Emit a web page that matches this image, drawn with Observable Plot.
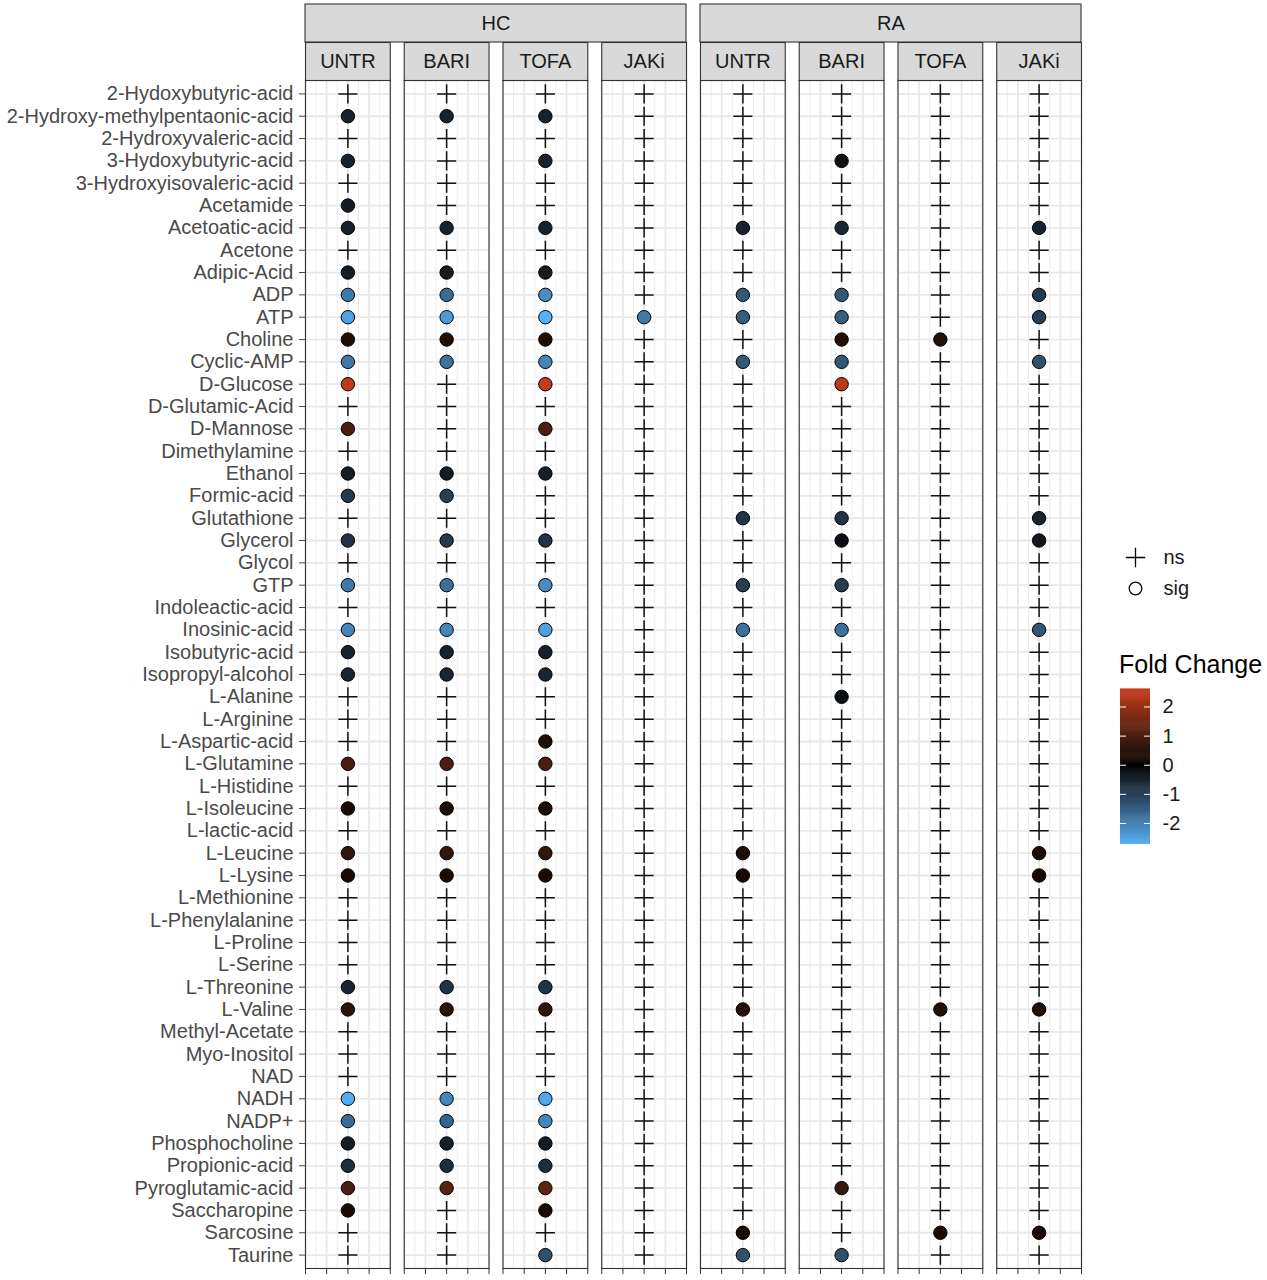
<!DOCTYPE html>
<html>
<head>
<meta charset="utf-8">
<script src="https://cdn.jsdelivr.net/npm/d3@7"></script>
<script src="https://cdn.jsdelivr.net/npm/@observablehq/plot@0.6"></script>
<style>
  body { margin: 0; background: #fff; font-family: "Liberation Sans", Arial, sans-serif; }
  #wrap { position: relative; width: 1267px; height: 1280px; }
  #main { position: absolute; left: 0; top: 0; }
  #shapeLeg { position: absolute; left: 1115px; top: 540px; }
  #legTitle { position: absolute; left: 1119px; top: 650px; font-size: 25px; color: #000; white-space: nowrap; }
  #colorLeg { position: absolute; left: 1110px; top: 680px; }
</style>
</head>
<body>
<div id="wrap">
  <div id="main"></div>
  <div id="shapeLeg"></div>
  <div id="legTitle">Fold Change</div>
  <div id="colorLeg"></div>
</div>
<script>
// ---------------- data ----------------
const metabolites = [
  "2-Hydoxybutyric-acid","2-Hydroxy-methylpentaonic-acid","2-Hydroxyvaleric-acid","3-Hydoxybutyric-acid",
  "3-Hydroxyisovaleric-acid","Acetamide","Acetoatic-acid","Acetone","Adipic-Acid","ADP","ATP","Choline",
  "Cyclic-AMP","D-Glucose","D-Glutamic-Acid","D-Mannose","Dimethylamine","Ethanol","Formic-acid",
  "Glutathione","Glycerol","Glycol","GTP","Indoleactic-acid","Inosinic-acid","Isobutyric-acid",
  "Isopropyl-alcohol","L-Alanine","L-Arginine","L-Aspartic-acid","L-Glutamine","L-Histidine",
  "L-Isoleucine","L-lactic-acid","L-Leucine","L-Lysine","L-Methionine","L-Phenylalanine","L-Proline",
  "L-Serine","L-Threonine","L-Valine","Methyl-Acetate","Myo-Inositol","NAD","NADH","NADP+",
  "Phosphocholine","Propionic-acid","Pyroglutamic-acid","Saccharopine","Sarcosine","Taurine"
];
const groups = ["HC", "RA"];
const treatments = ["UNTR", "BARI", "TOFA", "JAKi"];

// fold change where significant, null = not significant (ns); order follows `metabolites`
const N = null;
const hcUNTR = [N,-0.5,N,-0.5,N,-0.35,-0.45,N,-0.4,-1.9,-2.5,0.3,-1.9,2.5,N,0.95,N,-0.4,-0.9,N,-0.8,N,-1.9,N,-2.1,-0.5,-0.55,N,N,N,0.95,N,0.22,N,0.6,0.22,N,N,N,N,-0.55,0.5,N,N,N,-2.65,-1.7,-0.4,-0.7,1.0,0.25,N,N];
const hcBARI = [N,-0.5,N,N,N,N,-0.5,N,-0.4,-1.7,-2.4,0.3,-1.8,N,N,N,N,-0.4,-1.0,N,-0.9,N,-1.8,N,-2.1,-0.5,-0.55,N,N,N,1.0,N,0.25,N,0.6,0.25,N,N,N,N,-0.8,0.5,N,N,N,-2.1,-1.6,-0.45,-0.7,1.2,N,N,N];
const hcTOFA = [N,-0.5,N,-0.5,N,N,-0.5,N,-0.4,-2.2,-2.72,0.3,-2.1,2.6,N,1.0,N,-0.45,N,N,-0.8,N,-2.2,N,-2.5,-0.45,-0.55,N,N,0.3,1.0,N,0.25,N,0.6,0.25,N,N,N,N,-0.8,0.6,N,N,N,-2.6,-2.1,-0.4,-0.7,1.3,0.25,N,-1.3];
const hcJAKi = [N,N,N,N,N,N,N,N,N,N,-1.9,N,N,N,N,N,N,N,N,N,N,N,N,N,N,N,N,N,N,N,N,N,N,N,N,N,N,N,N,N,N,N,N,N,N,N,N,N,N,N,N,N,N];
const raUNTR = [N,N,N,N,N,N,-0.5,N,N,-1.4,-1.5,N,-1.4,N,N,N,N,N,N,-0.8,N,N,-1.0,N,-1.8,N,N,N,N,N,N,N,N,N,0.3,0.2,N,N,N,N,N,0.35,N,N,N,N,N,N,N,N,N,0.25,-1.3];
const raBARI = [N,N,N,-0.2,N,N,-0.6,N,N,-1.4,-1.5,0.35,-1.4,2.5,N,N,N,N,N,-0.8,-0.15,N,-1.0,N,-1.8,N,N,-0.15,N,N,N,N,N,N,N,N,N,N,N,N,N,N,N,N,N,N,N,N,N,0.7,N,N,-1.3];
const raTOFA = [N,N,N,N,N,N,N,N,N,N,N,0.35,N,N,N,N,N,N,N,N,N,N,N,N,N,N,N,N,N,N,N,N,N,N,N,N,N,N,N,N,N,0.35,N,N,N,N,N,N,N,N,N,0.25,N];
const raJAKi = [N,N,N,N,N,N,-0.5,N,N,-0.9,-1.0,N,-1.3,N,N,N,N,N,N,-0.5,-0.3,N,N,N,-1.4,N,N,N,N,N,N,N,N,N,0.25,0.2,N,N,N,N,N,0.3,N,N,N,N,N,N,N,N,N,0.25,N];

const legendTicks = [2, 1, 0, -1, -2];
const colorDomain = [-2.72, 0, 2.6];
const colorRange = ["#56B1F7", "#000000", "#C63B1B"];

// ---------------- table ----------------
const series = { HC: [hcUNTR, hcBARI, hcTOFA, hcJAKi], RA: [raUNTR, raBARI, raTOFA, raJAKi] };
const panelKeys = groups.flatMap(g => treatments.map(t => `${g} ${t}`));
const panelInfo = groups.flatMap(g => treatments.map(t => ({ key: `${g} ${t}`, treat: t })));
const groupInfo = groups.map(g => ({ group: g, first: `${g} ${treatments[0]}` }));
const rows = [];
groups.forEach(g => treatments.forEach((t, ti) => metabolites.forEach((m, i) => {
  const v = series[g][ti][i];
  rows.push({ panel: `${g} ${t}`, metabolite: m, fc: v, sig: v !== null });
})));

// ---------------- layout ----------------
const W = 1267, H = 1280, mL = 305, mR = 186, mT = 80, mB = 12;
const padIn = 0.1414;
const step = (W - mL - mR) / (panelKeys.length - padIn);
const innerH = H - mT - mB;
const majorX = [-1, -0.5, 0, 0.5, 1];
const minorX = [-0.75, -0.25, 0.25, 0.75];
const colorOpts = { type: "linear", domain: colorDomain, range: colorRange, interpolate: d3.interpolateLab };

const chart = Plot.plot({
  width: W, height: H,
  marginLeft: mL, marginRight: mR, marginTop: mT, marginBottom: mB,
  style: { fontFamily: "Liberation Sans, Arial, sans-serif", fontSize: "20px", background: "white" },
  fx: { domain: panelKeys, paddingInner: padIn, paddingOuter: 0, round: false, axis: null, label: null },
  x: { domain: [-1, 1], axis: null, label: null },
  y: { type: "point", domain: metabolites, padding: 0.6, round: false, axis: null, label: null },
  color: colorOpts,
  marks: [
    Plot.ruleX(minorX, { stroke: "#ebebeb", strokeWidth: 0.9 }),
    Plot.ruleX(majorX, { stroke: "#e8e8e8", strokeWidth: 1.8 }),
    Plot.gridY({ stroke: "#e8e8e8", strokeOpacity: 1, strokeWidth: 1.8 }),
    Plot.frame({ stroke: "#333", strokeWidth: 1.1 }),
    // inner strips
    Plot.frame({ fill: "#d9d9d9", stroke: "#333", strokeWidth: 1.1, insetTop: -38, insetBottom: innerH }),
    Plot.text(panelInfo, { fx: "key", text: "treat", frameAnchor: "top", lineAnchor: "middle", dy: -19, fontSize: 20, fill: "#1a1a1a" }),
    // outer strips
    Plot.rect(groupInfo, { fx: "first", fill: "#d9d9d9", stroke: "#333", strokeWidth: 1.1,
      insetTop: -76, insetBottom: innerH + 38, insetRight: -(3 * step) }),
    Plot.text(groupInfo, { fx: "first", text: "group", frameAnchor: "top", lineAnchor: "middle", dy: -57, dx: 1.5 * step, fontSize: 20, fill: "#1a1a1a" }),
    // axes
    Plot.axisY({ tickSize: 6, tickPadding: 6, fontSize: 20, color: "#4a4a4a", label: null }),
    Plot.axisX({ ticks: majorX, tickSize: 6, tickFormat: () => "", color: "#333", label: null }),
    // points
    Plot.dot(rows.filter(d => !d.sig), { fx: "panel", y: "metabolite", symbol: "plus", r: 6.2, stroke: "#111", strokeWidth: 1.5 }),
    Plot.dot(rows.filter(d => d.sig), { fx: "panel", y: "metabolite", fill: "fc", r: 6.7, stroke: "#000", strokeWidth: 1 })
  ]
});
document.getElementById("main").append(chart);

// ---------------- shape legend ----------------
const sigLevels = ["ns", "sig"];
const shapeLeg = Plot.plot({
  width: 120, height: 66, marginLeft: 10, marginRight: 90, marginTop: 17, marginBottom: 18,
  style: { fontFamily: "Liberation Sans, Arial, sans-serif", background: "transparent" },
  x: { axis: null },
  y: { type: "point", domain: sigLevels, padding: 0, round: false, axis: null },
  symbol: { domain: sigLevels, range: ["plus", "circle"] },
  marks: [
    Plot.dot(sigLevels, { y: d => d, symbol: d => d, r: 6.3, stroke: "#000", strokeWidth: 1.3, fill: "none" }),
    Plot.text(sigLevels, { y: d => d, text: d => d, dx: 28, textAnchor: "start", lineAnchor: "middle", fontSize: 20, fill: "#1a1a1a" })
  ]
});
document.getElementById("shapeLeg").append(shapeLeg);

// ---------------- colour bar ----------------
const nSteps = 160;
const dv = (colorDomain[2] - colorDomain[0]) / nSteps;
const ramp = d3.range(nSteps).map(i => colorDomain[0] + i * dv);
const colorLeg = Plot.plot({
  width: 100, height: 174, marginLeft: 10, marginRight: 60, marginTop: 9, marginBottom: 10,
  style: { fontFamily: "Liberation Sans, Arial, sans-serif", background: "transparent" },
  x: { domain: [0, 1], axis: null },
  y: { domain: [colorDomain[0], colorDomain[2]], axis: null },
  color: colorOpts,
  marks: [
    Plot.rect(ramp, { x1: 0, x2: 1, y1: d => d, y2: d => d + dv * 1.6, fill: d => d + dv / 2 }),
    Plot.ruleY(legendTicks, { x1: 0, x2: 0.2, stroke: "white", strokeWidth: 1 }),
    Plot.ruleY(legendTicks, { x1: 0.8, x2: 1, stroke: "white", strokeWidth: 1 }),
    Plot.axisY({ anchor: "right", ticks: legendTicks, tickSize: 0, tickPadding: 12, tickFormat: d => String(d), fontSize: 20, color: "#1a1a1a", label: null })
  ]
});
document.getElementById("colorLeg").append(colorLeg);
</script>
</body>
</html>
